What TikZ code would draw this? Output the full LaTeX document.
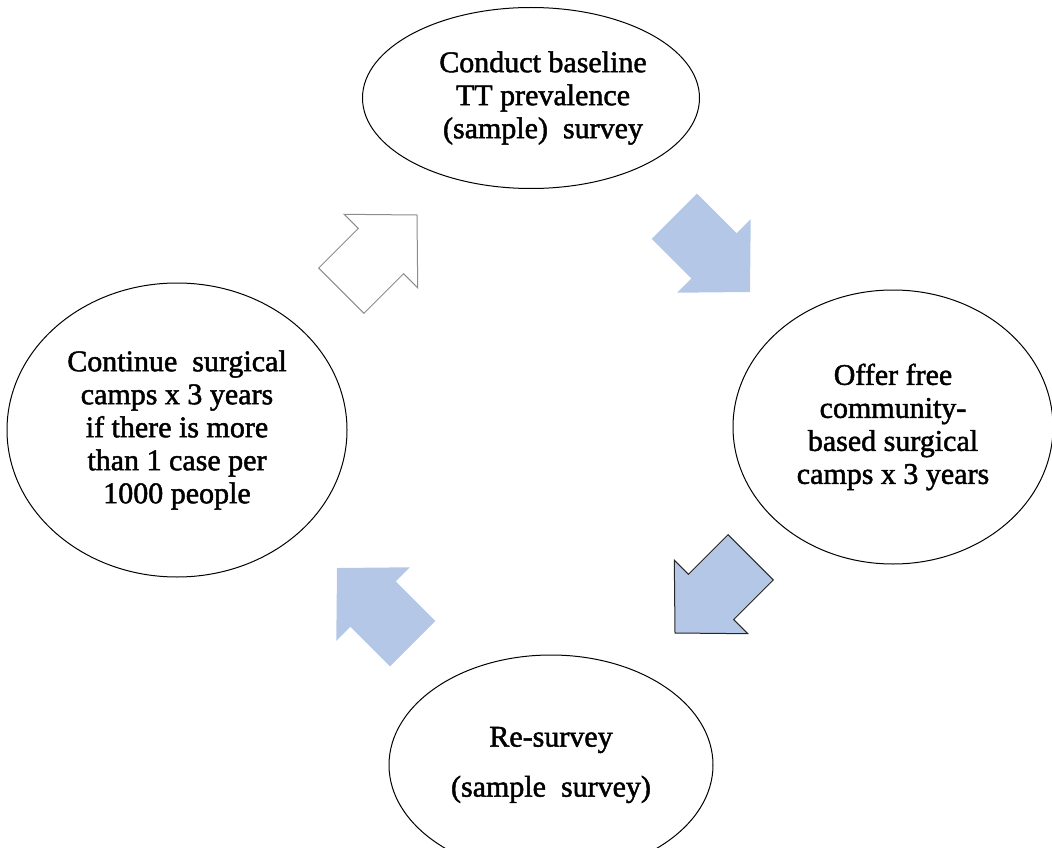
\documentclass[tikz,border=0pt]{standalone}
\usepackage{fontspec}
\setmainfont{Liberation Serif}[BoldFont=Liberation Serif, BoldFeatures={FakeBold=1.6}]
\usetikzlibrary{shapes.geometric}

\definecolor{paleblue}{HTML}{B4C7E7}

\tikzset{
  blockarrow/.pic={
    \path[pic actions] (0,0) -- (-51,52) -- (-51,32) -- (-107,32) -- (-107,-32) -- (-51,-32) -- (-51,-52) -- cycle;
  }
}

\begin{document}
\begin{tikzpicture}[x=1pt, y=-1pt, line width=1pt, main/.style = {draw, ellipse, inner sep=0pt, align=center, font=\fontsize{30}{33}\selectfont\bfseries}]
    \useasboundingbox (0,0) rectangle (1052,848);
    % Nodes

    \node[main, minimum width=337, minimum height=181] (1) at (531,98) {\hspace*{24pt}Conduct baseline\\\hspace*{24pt}TT prevalence\\\hspace*{24pt}(sample)\ \ survey};
    \node[main, minimum width=320, minimum height=274] (2) at (893,427) {Offer free\\community-\\based surgical\\camps x 3 years};
    \node[main, minimum width=324, minimum height=220] (3) at (551,765) {Re-survey\\[17pt](sample\ \ survey)};
    \node[main, minimum width=340, minimum height=294] (4) at (177,430) {Continue\ \ surgical\\camps x 3 years\\if there is more\\than 1 case per\\1000 people};

    % Arrows
    \pic[draw=black!45, fill=white, rotate=45] at (417,215) {blockarrow};
    \pic[fill=paleblue, rotate=-45] at (750,292) {blockarrow};
    \pic[draw=black!85, fill=paleblue, rotate=225] at (675,633) {blockarrow};
    \pic[fill=paleblue, rotate=135] at (337,568) {blockarrow};

\end{tikzpicture}
\end{document}
